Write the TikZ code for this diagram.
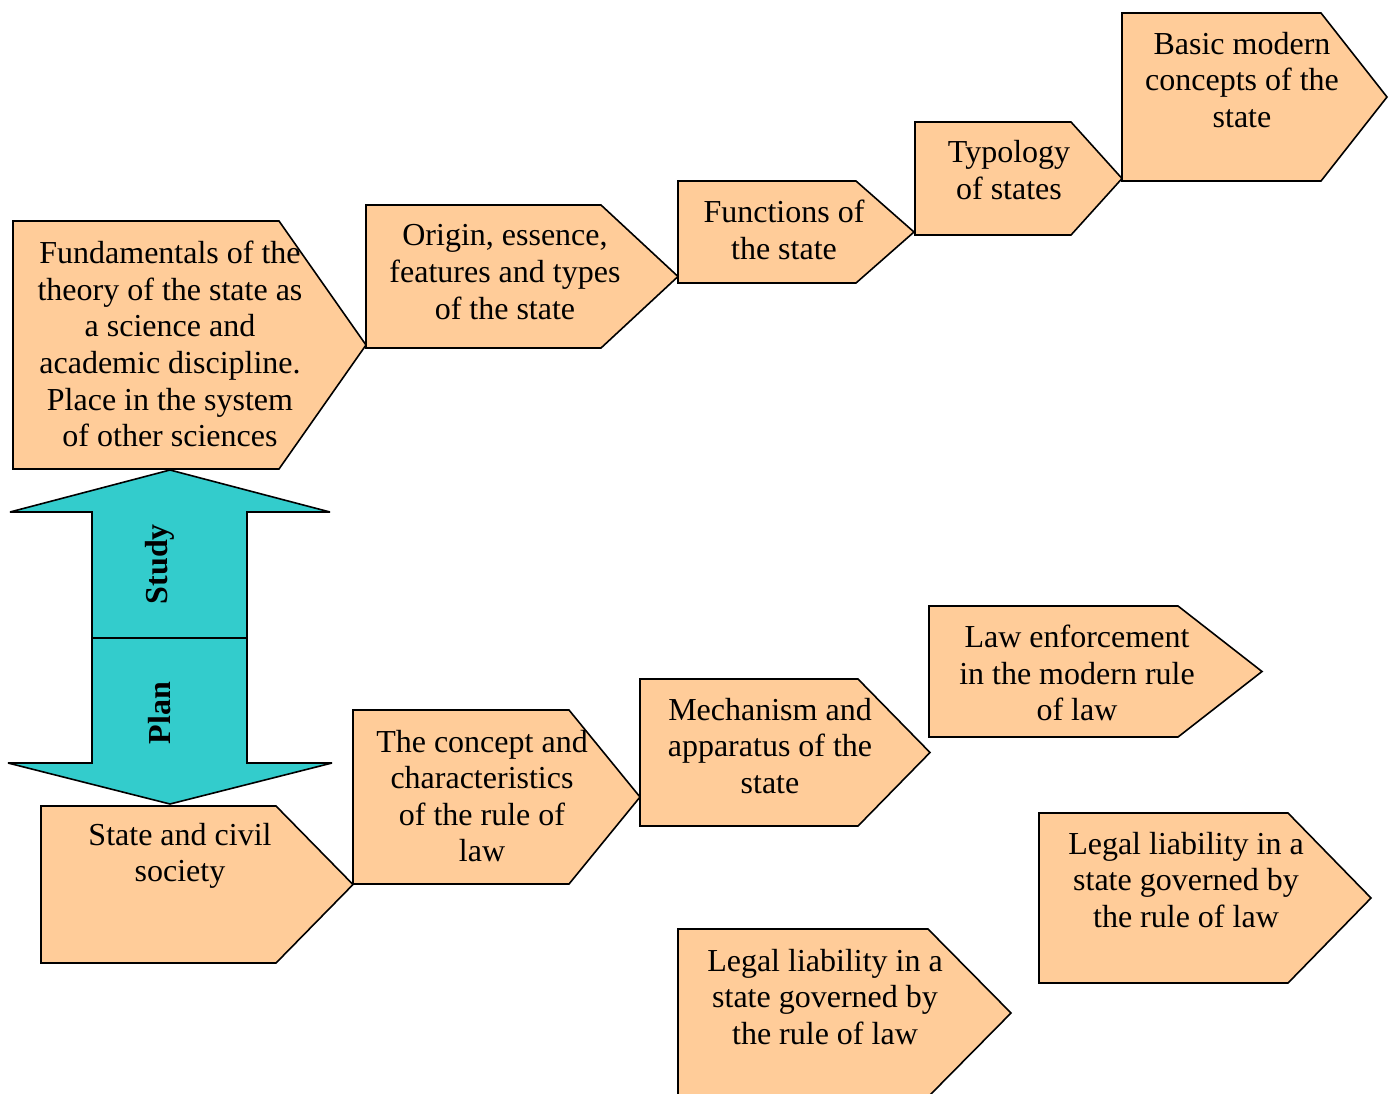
\documentclass[tikz,border=0pt]{standalone}
\usepackage{fontspec}
\setmainfont{Liberation Serif}
\definecolor{peach}{HTML}{FFCC99}
\definecolor{teal2}{HTML}{33CCCC}
\newcommand{\pentshape}[5]{\draw[pentbox] (#1,#2) -- (#4,#2) -- (#5,{(#2+#3)/2}) -- (#4,#3) -- (#1,#3) -- cycle;}
\begin{document}
\begin{tikzpicture}[x=0.5pt,y=-0.5pt,
  pentbox/.style={draw=black,fill=peach,line width=0.8pt,line join=miter},
  dblarrow/.style={draw=black,fill=teal2,line width=0.8pt,line join=miter,miter limit=3},
  boxtext/.style={align=center,inner sep=0pt,font=\fontsize{16}{18.3}\selectfont},
  arrowlbl/.style={inner sep=0pt,rotate=90,font=\fontsize{16}{18}\selectfont\bfseries}]
\useasboundingbox (0,0) rectangle (1391,1093);
\begin{scope}
\clip (0,0) rectangle (1391,1093);
% top row
\pentshape{13}{221}{469}{279}{366}
\pentshape{366}{205}{348}{601}{678}
\pentshape{678}{181}{283}{856}{914}
\pentshape{915}{122}{235}{1071}{1122}
\pentshape{1122}{13}{181}{1321}{1387}
% bottom group
\pentshape{41}{806}{963}{276}{353}
\pentshape{353}{710}{884}{569}{640}
\pentshape{640}{679}{826}{858}{930}
\pentshape{929}{606}{737}{1178}{1262}
\pentshape{1039}{813}{983}{1288}{1371}
\pentshape{678}{929}{1097}{928}{1011}
\end{scope}
% double arrow
\draw[dblarrow] (170,470) -- (330,512) -- (247,512) -- (247,763) -- (332,763) -- (170,804) -- (8,763) -- (92,763) -- (92,512) -- (10,512) -- cycle;
\coordinate (divl) at (92,638);
\coordinate (divr) at (247,638);
\draw[line width=0.8pt] (divl) -- (divr);
\node[arrowlbl] (study) at (160,564) {Study};
\node[arrowlbl] (plan) at (160,713) {Plan};
% texts
\node[boxtext] (t1) at (170,344) {Fundamentals of the\\theory of the state as\\a science and\\academic discipline.\\Place in the system\\of other sciences};
\node[boxtext] (t2) at (505,272) {Origin, essence,\\features and types\\of the state};
\node[boxtext] (t3) at (784,230) {Functions of\\the state};
\node[boxtext] (t4) at (1009,170) {Typology\\of states};
\node[boxtext] (t5) at (1242,80) {Basic modern\\concepts of the\\state};
\node[boxtext] (t6) at (180,856) {State and civil\\society};
\node[boxtext] (t7) at (482,796) {The concept and\\characteristics\\of the rule of\\law};
\node[boxtext] (t8) at (770,746) {Mechanism and\\apparatus of the\\state};
\node[boxtext] (t9) at (1077,673) {Law enforcement\\in the modern rule\\of law};
\node[boxtext] (t10) at (1186,880) {Legal liability in a\\state governed by\\the rule of law};
\node[boxtext] (t11) at (825,997) {Legal liability in a\\state governed by\\the rule of law};
\end{tikzpicture}
\end{document}
